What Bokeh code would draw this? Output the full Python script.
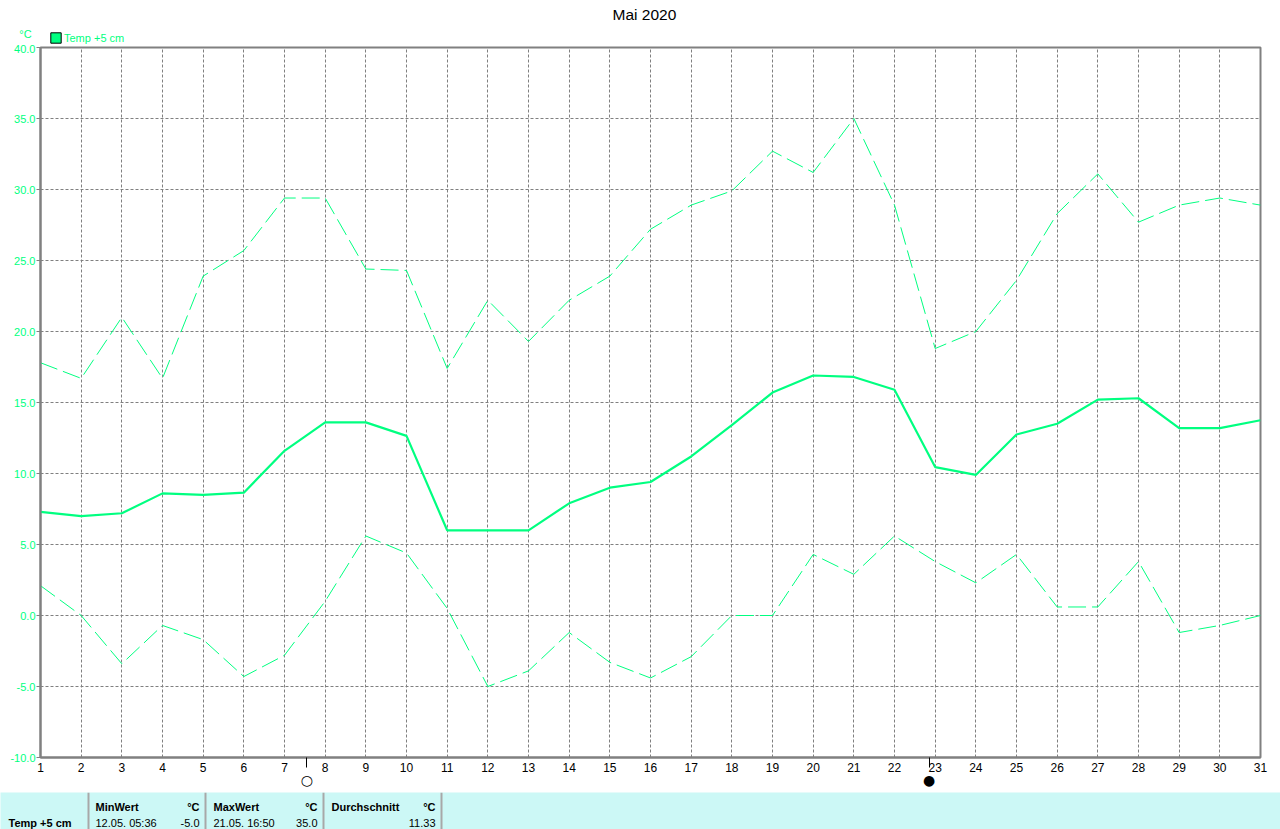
from bokeh.plotting import figure
from bokeh.models import Range1d, FixedTicker, NumeralTickFormatter, Legend, LegendItem, LinearAxis, Label
from bokeh.layouts import column
from bokeh.embed import file_html
from bokeh.resources import INLINE
from bokeh.core.properties import value

# ---------------- data ----------------
days = list(range(1, 32))
t_max = [17.8, 16.7, 21.0, 16.7, 23.9, 25.7, 29.4, 29.4, 24.4, 24.3,
         17.4, 22.2, 19.3, 22.2, 23.9, 27.2, 28.9, 29.9, 32.7, 31.2,
         35.0, 28.9, 18.8, 20.0, 23.6, 28.3, 31.1, 27.7, 28.9, 29.4, 28.9]
t_mean = [7.3, 7.0, 7.2, 8.6, 8.5, 8.65, 11.6, 13.6, 13.6, 12.65,
          6.0, 6.0, 6.0, 7.9, 9.0, 9.4, 11.2, 13.4, 15.7, 16.9,
          16.8, 15.9, 10.45, 9.9, 12.75, 13.5, 15.2, 15.3, 13.2, 13.2, 13.75]
t_min = [2.1, 0.0, -3.4, -0.7, -1.7, -4.3, -2.8, 1.0, 5.6, 4.4,
         0.5, -5.0, -3.9, -1.2, -3.3, -4.4, -2.9, 0.0, 0.0, 4.3,
         2.9, 5.6, 3.8, 2.3, 4.3, 0.6, 0.6, 3.8, -1.2, -0.7, 0.0]
y_ticks = [-10, -5, 0, 5, 10, 15, 20, 25, 30, 35, 40]
moon_days = [7.55, 22.85]
moon_symbols = ["○", "●"]
title_text = "Mai 2020"
series_name = "Temp +5 cm"
unit = "°C"
table_headers = ["MinWert", "MaxWert", "Durchschnitt"]
min_stamp = "12.05.  05:36"
min_value = -5.0
max_stamp = "21.05.  16:50"
max_value = 35.0
avg_value = 11.33

GREEN = "#00FF80"
GRAY = "#808080"
FONT = "Liberation Sans"
CYAN = "#CCF8F6"

# ---------------- header: title, unit and legend ----------------
h = figure(width=1280, height=44, x_range=Range1d(0, 1280), y_range=Range1d(0, 1),
           output_backend="svg", toolbar_location=None,
           min_border=0, min_border_top=23, x_axis_type=None, y_axis_type=None,
           title=title_text)
h.frame_align = False
h.outline_line_color = None
h.grid.visible = False
h.background_fill_color = "white"
h.border_fill_color = "white"
h.title.align = "left"
h.title.offset = 612
h.title.text_font = FONT
h.title.text_font_size = "15.5px"
h.title.text_font_style = "normal"
h.title.text_color = "black"
h.title.standoff = 2

# legend swatch renderer: a single box lying outside the header's visible range
leg_r = h.quad(left=[-200], right=[-190], bottom=[-200], top=[-190],
               fill_color=GREEN, line_color="black", line_width=1)
legend = Legend(items=[LegendItem(label=series_name, renderers=[leg_r])],
                location=(49, 0), orientation="horizontal",
                glyph_width=13, glyph_height=13, label_height=12, label_standoff=2,
                padding=0, margin=0, spacing=0,
                label_text_font=FONT, label_text_font_size="11px", label_text_color=GREEN,
                border_line_color=None, background_fill_alpha=0)
h.add_layout(legend, "center")
h.add_layout(Label(x=25, y=11, x_units="screen", y_units="screen", text=unit,
                   text_font=FONT, text_font_size="11px", text_color=GREEN,
                   text_align="center", text_baseline="middle"))

# ---------------- main chart ----------------
p = figure(width=1280, height=748, x_range=Range1d(1, 31), y_range=Range1d(-10, 40),
           output_backend="svg", toolbar_location=None,
           min_border_left=40, min_border_right=20, min_border_top=3, min_border_bottom=35)
p.frame_align = False
p.background_fill_color = "white"
p.border_fill_color = "white"
p.outline_line_color = GRAY
p.outline_line_width = 2

# y axis
p.yaxis.ticker = FixedTicker(ticks=y_ticks)
p.yaxis.formatter = NumeralTickFormatter(format="0.0")
p.yaxis.major_label_text_color = GREEN
p.yaxis.major_label_text_font = FONT
p.yaxis.major_label_text_font_size = "11px"
p.yaxis.major_label_standoff = 1
p.yaxis.major_tick_out = 4
p.yaxis.major_tick_in = 0
p.yaxis.major_tick_line_color = GRAY
p.yaxis.minor_tick_line_color = None
p.yaxis.axis_line_color = GRAY
p.yaxis.axis_line_width = 2

# x axis (days, with moon-phase marks as minor ticks)
p.xaxis.ticker = FixedTicker(ticks=days, minor_ticks=moon_days)
p.xaxis.major_label_overrides = {d: str(d) for d in days}
p.xaxis.major_label_text_color = "black"
p.xaxis.major_label_text_font = FONT
p.xaxis.major_label_text_font_size = "12px"
p.xaxis.major_label_standoff = -5
p.xaxis.major_tick_out = 0
p.xaxis.major_tick_in = 0
p.xaxis.major_tick_line_color = None
p.xaxis.minor_tick_out = 10
p.xaxis.minor_tick_in = 0
p.xaxis.minor_tick_line_color = "black"
p.xaxis.minor_tick_line_width = 1
p.xaxis.axis_line_color = GRAY
p.xaxis.axis_line_width = 2

# second axis below carrying the moon symbols
moon_axis = LinearAxis(ticker=FixedTicker(ticks=moon_days),
                       major_label_overrides={d: s for d, s in zip(moon_days, moon_symbols)},
                       axis_line_color=None, major_tick_line_color=None,
                       minor_tick_line_color=None, major_tick_out=0, major_tick_in=0,
                       major_label_standoff=-3, major_label_text_font="DejaVu Sans",
                       major_label_text_font_size="14px", major_label_text_color="black")
p.add_layout(moon_axis, "below")

# grids
p.xgrid.ticker = FixedTicker(ticks=days)
p.ygrid.ticker = FixedTicker(ticks=y_ticks)
for g in (p.xgrid, p.ygrid):
    g.grid_line_color = GRAY
    g.grid_line_dash = "3 2"
    g.grid_line_width = 1

# series
p.line(days, t_max, line_color=GREEN, line_width=1, line_dash="18 6")
p.line(days, t_min, line_color=GREEN, line_width=1, line_dash="18 6")
p.line(days, t_mean, line_color=GREEN, line_width=2.2)

# ---------------- statistics table ----------------
t = figure(width=1280, height=37, x_range=Range1d(0, 1280), y_range=Range1d(829, 792),
           output_backend="svg", toolbar_location=None, min_border=0,
           x_axis_type=None, y_axis_type=None)
t.frame_align = False
t.background_fill_color = CYAN
t.border_fill_color = CYAN
t.outline_line_color = None
t.grid.visible = False

t.segment(x0=[88, 205, 323, 441], y0=[792] * 4, x1=[88, 205, 323, 441], y1=[829] * 4,
          line_color="#A8A8A8", line_width=2)

row1, row2 = 806, 822
t.text(x=[95, 213, 331], y=[row1] * 3, text=table_headers,
       text_font=value(FONT), text_font_style="bold", text_font_size="11px",
       text_baseline="middle", text_align="left", text_color="black")
t.text(x=[199, 317, 435], y=[row1] * 3, text=[unit] * 3,
       text_font=value(FONT), text_font_style="bold", text_font_size="11px",
       text_baseline="middle", text_align="right", text_color="black")
t.text(x=[8], y=[row2], text=[series_name],
       text_font=value(FONT), text_font_style="bold", text_font_size="11px",
       text_baseline="middle", text_align="left", text_color="black")
t.text(x=[95, 213], y=[row2] * 2, text=[min_stamp, max_stamp],
       text_font=value(FONT), text_font_size="11px",
       text_baseline="middle", text_align="left", text_color="black")
t.text(x=[199, 317, 435], y=[row2] * 3,
       text=[f"{min_value:.1f}", f"{max_value:.1f}", f"{avg_value:.2f}"],
       text_font=value(FONT), text_font_size="11px",
       text_baseline="middle", text_align="right", text_color="black")

layout = column(h, p, t, spacing=0)
open("out.html", "w").write(file_html(layout, INLINE))
